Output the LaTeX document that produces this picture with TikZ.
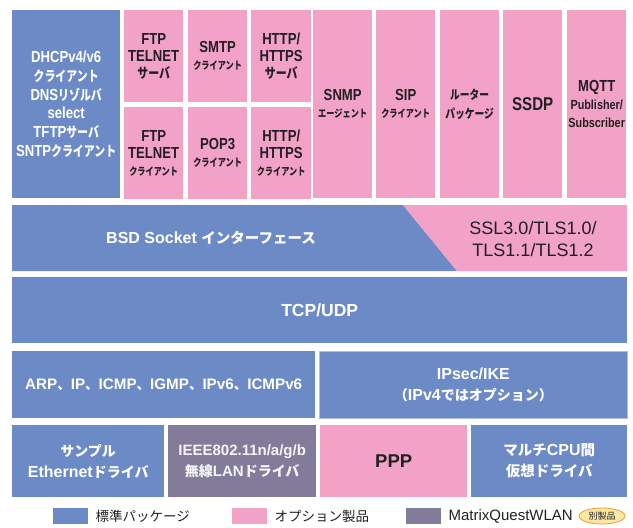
\documentclass[tikz,border=0pt]{standalone}
\usepackage{fontspec}
\setmainfont{Liberation Sans}
\newfontfamily\narrowfont{Liberation Sans}[FakeStretch=0.82]
\newfontfamily\jpfont{Noto Sans CJK JP}
\newfontfamily\jpnarrow{Noto Sans CJK JP}[FakeStretch=0.78]
\usetikzlibrary{positioning,shapes.geometric}
\definecolor{stdblue}{RGB}{108,138,198}
\definecolor{optpink}{RGB}{242,162,198}
\definecolor{wlangray}{RGB}{131,123,154}
\definecolor{inkdark}{RGB}{35,31,32}
\definecolor{badgefill}{RGB}{252,232,165}
\definecolor{badgeline}{RGB}{236,160,50}
% Japanese text, in the family that the node has chosen
\let\jpsel\jpfont
\newcommand{\jp}[2][14]{{\jpsel\fontsize{#1}{#1}\selectfont #2}}
\tikzset{
    block/.style={anchor=north west, inner sep=0pt, align=center,
        font=\bfseries\fontsize{16}{21}\selectfont},
    stdblock/.style={block, fill=stdblue, text=white},
    optblock/.style={block, fill=optpink, text=inkdark},
    wlanblock/.style={block, fill=wlangray, text=white!92!wlangray},
    narrow/.style={font=\narrowfont\let\jpsel\jpnarrow\bfseries\fontsize{16}{#1}\selectfont},
    narrow/.default=17,
    legendbox/.style={anchor=west, minimum width=35pt, minimum height=16pt, inner sep=0pt},
    legendtext/.style={anchor=west, inner sep=0pt, text=inkdark,
        font=\fontsize{15}{16}\selectfont},
}

\begin{document}
\begin{tikzpicture}[x=1pt,y=-1pt]
\useasboundingbox (0,0) rectangle (633,528);
% application layer
\node[stdblock, narrow=18.8, minimum width=108pt, minimum height=188pt] (dhcp) at (12,10)
    {DHCPv4/v6\\\jp{クライアント}\\DNS\jp{リゾルバ}\\select\\TFTP\jp{サーバ}\\SNTP\jp{クライアント}};
\node[optblock, narrow, minimum width=59pt, minimum height=92pt] (ftpsrv) at (124,10)
    {FTP\\TELNET\\\jp{サーバ}};
\node[optblock, narrow, minimum width=59pt, minimum height=92pt] (smtpcl) at (188,10)
    {SMTP\\\jp[10.5]{クライアント}};
\node[optblock, narrow, minimum width=60pt, minimum height=92pt] (httpsrv) at (251,10)
    {HTTP/\\HTTPS\\\jp{サーバ}};
\node[optblock, narrow, minimum width=59pt, minimum height=92pt] (ftpcl) at (124,107)
    {FTP\\TELNET\\\jp[10.5]{クライアント}};
\node[optblock, narrow, minimum width=59pt, minimum height=92pt] (pop3cl) at (188,107)
    {POP3\\\jp[10.5]{クライアント}};
\node[optblock, narrow, minimum width=60pt, minimum height=92pt] (httpcl) at (251,107)
    {HTTP/\\HTTPS\\\jp[10.5]{クライアント}};
\node[optblock, narrow, minimum width=59pt, minimum height=188pt] (snmp) at (313,10)
    {SNMP\\\jp[10.5]{エージェント}};
\node[optblock, narrow, minimum width=59pt, minimum height=188pt] (sip) at (376,10)
    {SIP\\\jp[10.5]{クライアント}};
\node[optblock, narrow=19, minimum width=59pt, minimum height=188pt] (router) at (440,10)
    {\jp[12.5]{ルーター}\\\jp[12.5]{パッケージ}};
\node[optblock, narrow, minimum width=59pt, minimum height=188pt] (ssdp) at (503,10)
    {\fontsize{18.5}{19}\selectfont SSDP};
\node[optblock, narrow=18, minimum width=59pt, minimum height=188pt] (mqtt) at (567,10)
    {MQTT\\{\fontsize{13.2}{13}\selectfont Publisher/}\\{\fontsize{13.2}{13}\selectfont Subscriber}};
% socket layer
\fill[stdblue] (12,205) -- (403,205) -- (457,271) -- (12,271) -- cycle;
\fill[optpink] (403,205) -- (627,205) -- (627,271) -- (457,271) -- cycle;
\node[text=white, font=\bfseries\fontsize{16}{17}\selectfont] (bsd) at (211,238)
    {BSD Socket \jp[14.5]{インターフェース}};
\node[text=inkdark, align=center, font=\fontsize{18}{22}\selectfont] (ssl) at (533,239)
    {SSL3.0/TLS1.0/\\TLS1.1/TLS1.2};
% transport and network
\node[stdblock, font=\bfseries\fontsize{17.5}{17}\selectfont, minimum width=615pt, minimum height=66pt] (tcp) at (12,277)
    {TCP/UDP};
\node[stdblock, font=\bfseries\fontsize{15.2}{17}\selectfont, minimum width=303pt, minimum height=67pt] (ip) at (12,351)
    {ARP\jp[13.5]{、}IP\jp[13.5]{、}ICMP\jp[13.5]{、}IGMP\jp[13.5]{、}IPv6\jp[13.5]{、}ICMPv6};
\node[stdblock, draw=stdblue!55!white, line width=0.8pt, minimum width=308pt, minimum height=67pt] (ipsec) at (319,351)
    {IPsec/IKE\\\jp{（}IPv4\jp{ではオプション）}};
% drivers
\node[stdblock, minimum width=152pt, minimum height=72pt] (ether) at (12,425)
    {\jp{サンプル}\\Ethernet\jp{ドライバ}};
\node[wlanblock, font=\bfseries\fontsize{15}{21}\selectfont, minimum width=148pt, minimum height=72pt] (wlan) at (168,425)
    {IEEE802.11n/a/g/b\\\jp{無線}LAN\jp{ドライバ}};
\node[optblock, font=\bfseries\fontsize{18.5}{21}\selectfont, minimum width=147pt, minimum height=72pt] (ppp) at (320,425)
    {PPP};
\node[stdblock, minimum width=156pt, minimum height=72pt] (multi) at (471,425)
    {\jp[14.5]{マルチ}CPU\jp[14.5]{間}\\\jp[14.5]{仮想ドライバ}};
% legend
\node[legendbox, fill=stdblue] (lgstd) at (53,516) {};
\node[legendtext, right=7pt of lgstd] (lgstdtext) {\jp[13.5]{標準パッケージ}};
\node[legendbox, fill=optpink] (lgopt) at (232,516) {};
\node[legendtext, right=7pt of lgopt] (lgopttext) {\jp[13.5]{オプション製品}};
\node[legendbox, fill=wlangray] (lgwlan) at (406,516) {};
\node[legendtext, right=7pt of lgwlan] (lgwlantext) {MatrixQuestWLAN};
\node[ellipse, draw=badgeline, fill=badgefill, line width=0.8pt, inner sep=0pt,
    minimum width=46pt, minimum height=16pt, text=inkdark] (badge) at (602,516) {\jp[9]{別製品}};
\end{tikzpicture}
\end{document}
